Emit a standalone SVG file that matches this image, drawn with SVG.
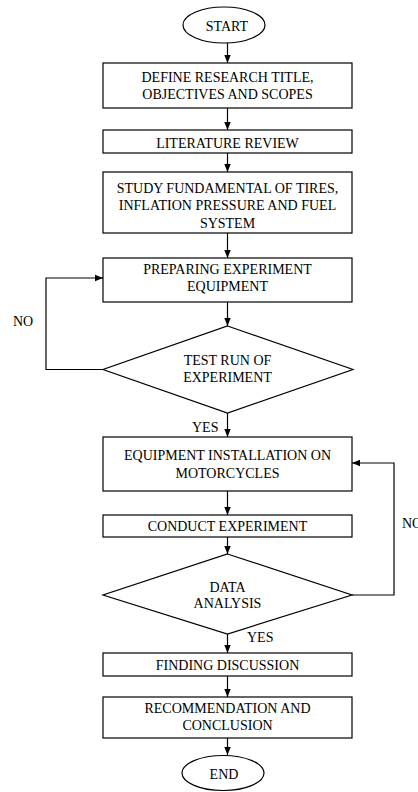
<svg xmlns="http://www.w3.org/2000/svg" width="418" height="792" viewBox="0 0 418 792">
<style>
.s{fill:#fff;stroke:#000;stroke-width:1.2}
.t{font-family:"Liberation Serif","Times New Roman",serif;font-size:14px;fill:#000;text-anchor:middle}
.l{font-family:"Liberation Serif","Times New Roman",serif;font-size:14px;fill:#000}
.c{fill:none;stroke:#000;stroke-width:1.2}
</style>
<defs>
<marker id="a" viewBox="0 0 8 8" refX="8" refY="4" markerWidth="8" markerHeight="8" markerUnits="userSpaceOnUse" orient="auto">
<path d="M0,0.8 L8,4 L0,7.2 Z" fill="#000"/>
</marker>
</defs>
<rect width="418" height="792" fill="#fff"/>
<g id="connectors">
<path class="c" d="M227.5,43 V63" marker-end="url(#a)"/>
<path class="c" d="M227.5,108 V130" marker-end="url(#a)"/>
<path class="c" d="M227.5,153 V172" marker-end="url(#a)"/>
<path class="c" d="M227.5,233 V258" marker-end="url(#a)"/>
<path class="c" d="M227.5,302 V326" marker-end="url(#a)"/>
<path class="c" d="M103,369.5 H46 V278 H103" marker-end="url(#a)"/>
<path class="c" d="M227.5,413 V437" marker-end="url(#a)"/>
<path class="c" d="M227.5,491 V515" marker-end="url(#a)"/>
<path class="c" d="M227.5,537 V554" marker-end="url(#a)"/>
<path class="c" d="M352,595 H394 V463 H352" marker-end="url(#a)"/>
<path class="c" d="M227.5,634 V653" marker-end="url(#a)"/>
<path class="c" d="M227.5,676 V697" marker-end="url(#a)"/>
<path class="c" d="M227.5,738 V755" marker-end="url(#a)"/>
<text class="l" x="13" y="326">NO</text>
<text class="l" x="192" y="432">YES</text>
<text class="l" x="402" y="528">NO</text>
<text class="l" x="247" y="642">YES</text>
</g>
<g id="start">
<ellipse class="s" cx="224" cy="25" rx="41" ry="18"/>
<text class="t" x="227" y="31">START</text>
</g>
<g id="define">
<rect class="s" x="103" y="63" width="249" height="45"/>
<text class="t" x="227.5" y="82">DEFINE RESEARCH TITLE,</text>
<text class="t" x="227.5" y="99">OBJECTIVES AND SCOPES</text>
</g>
<g id="literature">
<rect class="s" x="103" y="130" width="249" height="23"/>
<text class="t" x="227.5" y="148">LITERATURE REVIEW</text>
</g>
<g id="study">
<rect class="s" x="103" y="172" width="249" height="61"/>
<text class="t" x="227.5" y="192.5">STUDY FUNDAMENTAL OF TIRES,</text>
<text class="t" x="227.5" y="210">INFLATION PRESSURE AND FUEL</text>
<text class="t" x="227.5" y="227.5">SYSTEM</text>
</g>
<g id="preparing">
<rect class="s" x="103" y="258" width="249" height="44"/>
<text class="t" x="227.5" y="274">PREPARING EXPERIMENT</text>
<text class="t" x="227.5" y="291">EQUIPMENT</text>
</g>
<g id="testrun">
<polygon class="s" points="227.5,326 353,369.5 227.5,413 103,369.5"/>
<text class="t" x="227.5" y="365">TEST RUN OF</text>
<text class="t" x="227.5" y="381.5">EXPERIMENT</text>
</g>
<g id="installation">
<rect class="s" x="103" y="437" width="249" height="54"/>
<text class="t" x="227.5" y="460">EQUIPMENT INSTALLATION ON</text>
<text class="t" x="227.5" y="477.5">MOTORCYCLES</text>
</g>
<g id="conduct">
<rect class="s" x="103" y="515" width="249" height="22"/>
<text class="t" x="227.5" y="531">CONDUCT EXPERIMENT</text>
</g>
<g id="analysis">
<polygon class="s" points="227.5,554 352,595 227.5,634 103,595"/>
<text class="t" x="227.5" y="591.5">DATA</text>
<text class="t" x="227.5" y="607.5">ANALYSIS</text>
</g>
<g id="finding">
<rect class="s" x="103" y="653" width="249" height="23"/>
<text class="t" x="227.5" y="670">FINDING DISCUSSION</text>
</g>
<g id="recommendation">
<rect class="s" x="103" y="697" width="249" height="41"/>
<text class="t" x="227.5" y="713">RECOMMENDATION AND</text>
<text class="t" x="227.5" y="729.5">CONCLUSION</text>
</g>
<g id="end">
<ellipse class="s" cx="223" cy="773" rx="41" ry="17.5"/>
<text class="t" x="224" y="779">END</text>
</g>
</svg>
